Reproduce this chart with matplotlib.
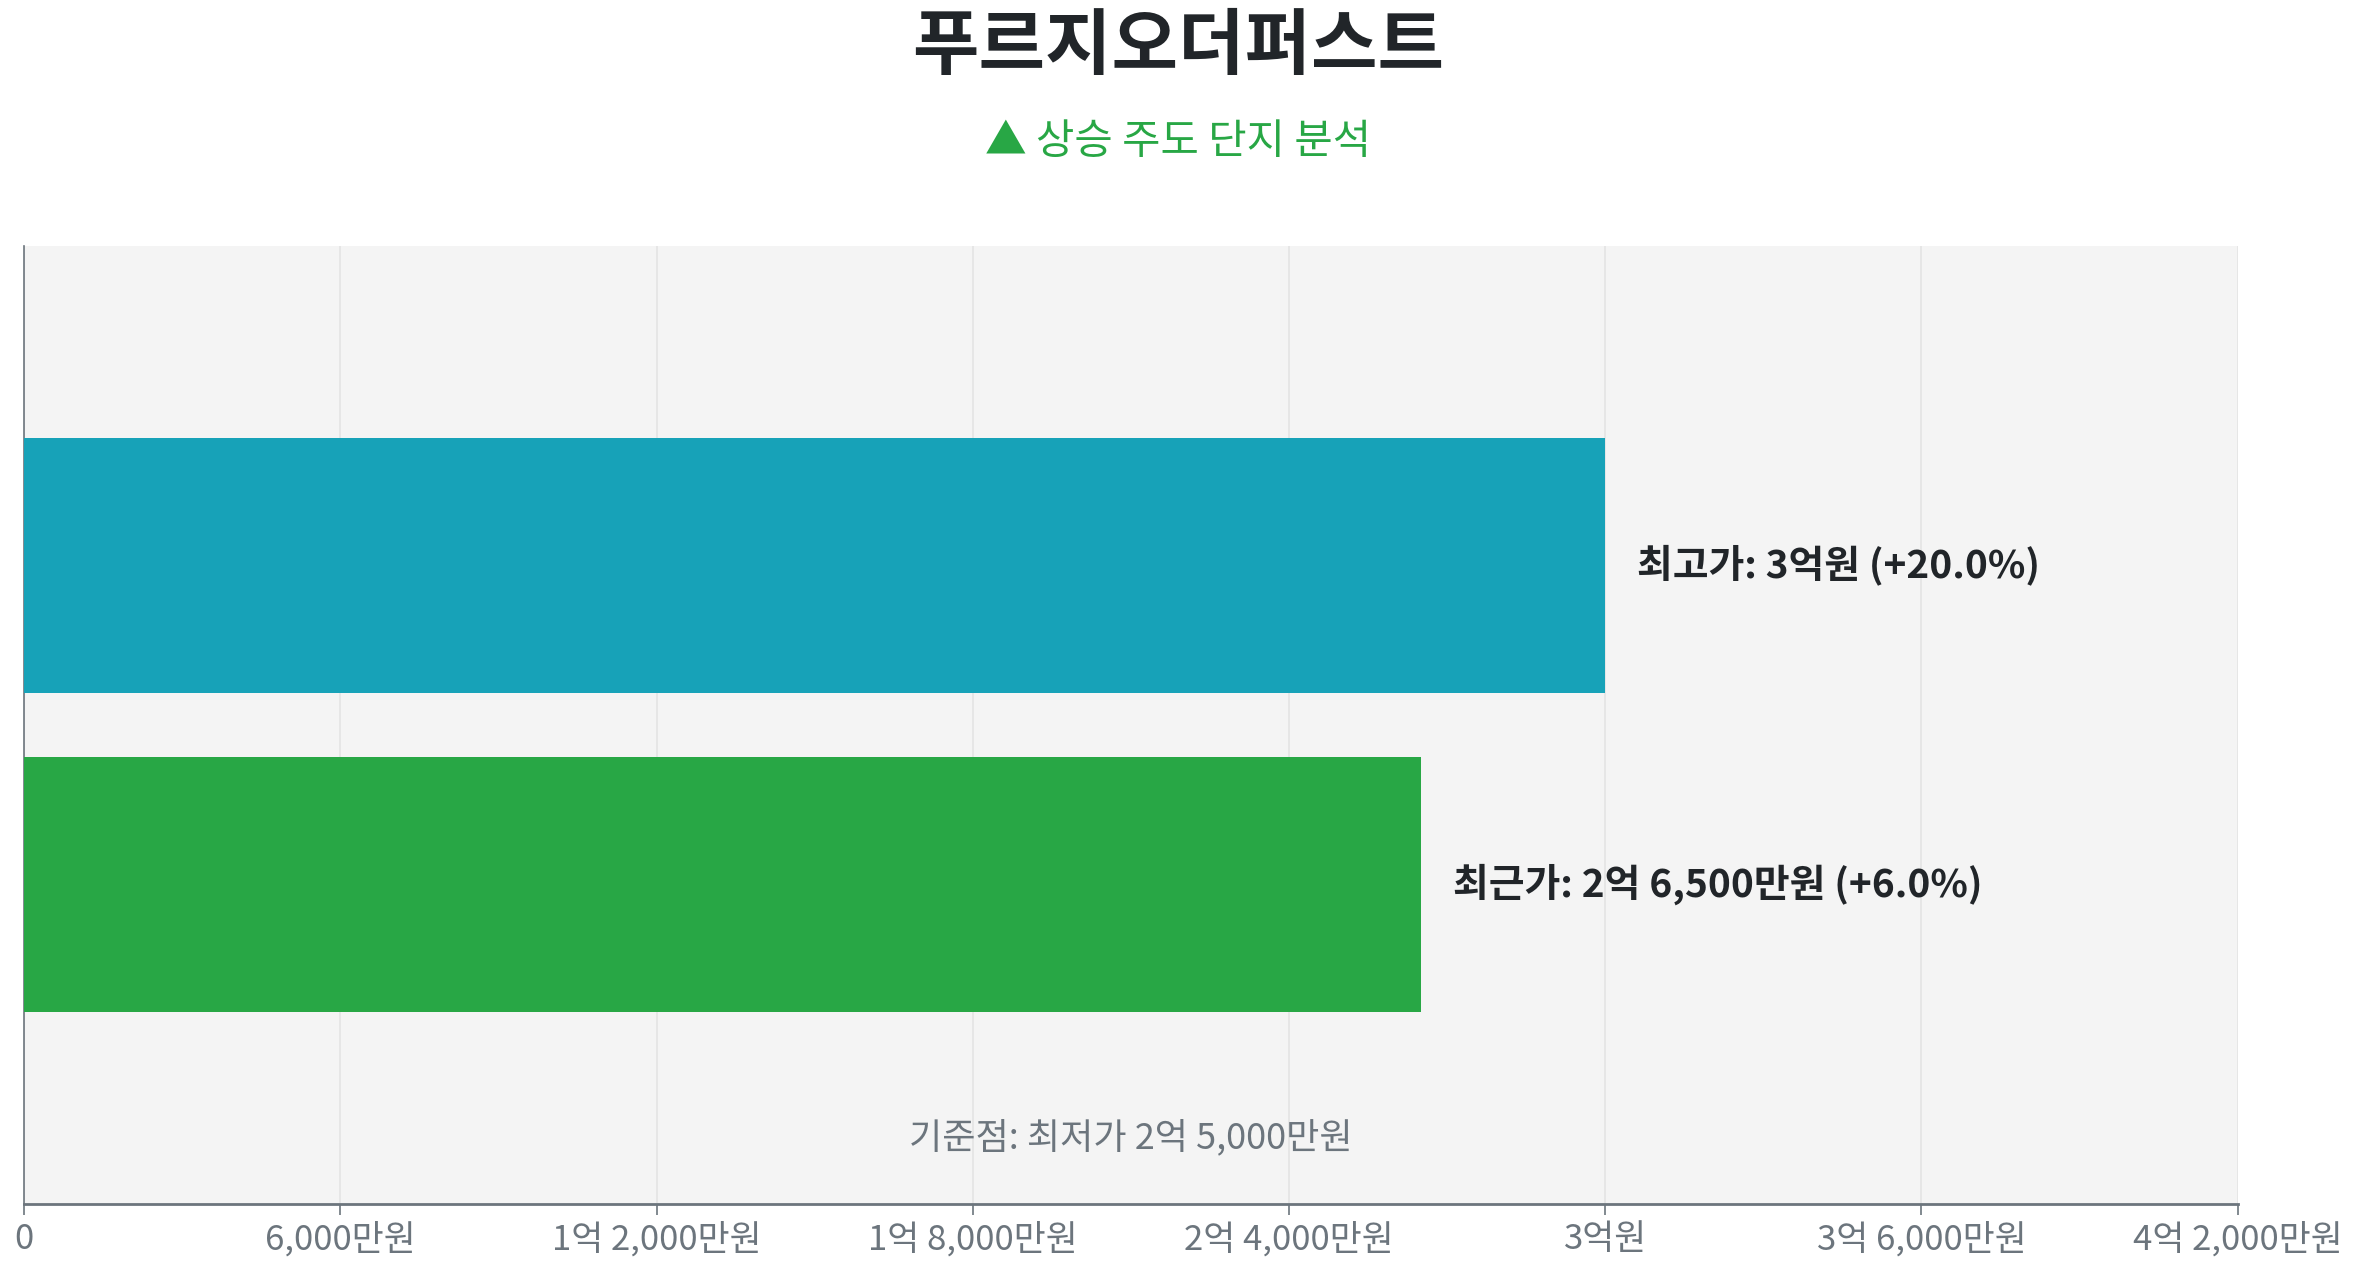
import matplotlib
matplotlib.use("Agg")
import matplotlib.pyplot as plt
from matplotlib.ticker import FixedLocator, FuncFormatter

plt.rcParams['font.family'] = ['Noto Sans CJK KR', 'DejaVu Sans']

# ---- data ----
title = "푸르지오더퍼스트"
subtitle = "▲ 상승 주도 단지 분석"
categories = ["최고가", "최근가"]
values = [300_000_000, 265_000_000]
base_label = "최저가"
base_value = 250_000_000
tick_values = [0, 60_000_000, 120_000_000, 180_000_000, 240_000_000,
               300_000_000, 360_000_000, 420_000_000]
bar_colors = ["#17a2b8", "#28a745"]


def fmt_won(v, pos=None):
    v = int(round(v))
    if v == 0:
        return "0"
    eok = v // 100_000_000
    man = (v % 100_000_000) // 10_000
    if eok and man:
        return f"{eok}억 {man:,}만원"
    if eok:
        return f"{eok}억원"
    return f"{man:,}만원"


fig = plt.figure(figsize=(23.57, 12.68), dpi=100)
fig.patch.set_facecolor("white")
ax = fig.add_axes([0.0102, 0.0505, 0.9392, 0.7555])
ax.set_facecolor("#f4f4f4")

ypos = [1, 0]
ax.barh(ypos, values, height=0.8, color=bar_colors, zorder=3)
ax.set_xlim(0, tick_values[-1])
ax.set_ylim(-1, 2)

ax.xaxis.set_major_locator(FixedLocator(tick_values))
ax.xaxis.set_major_formatter(FuncFormatter(fmt_won))
ax.grid(axis="x", color="#e4e4e4", linewidth=1.2, zorder=0)
ax.set_yticks([])
ax.tick_params(axis="x", colors="#6c757d", labelsize=25, length=8, width=1.2, pad=5)
for lab in ax.get_xticklabels():
    lab.set_color("#6c757d")

for s in ["top", "right"]:
    ax.spines[s].set_visible(False)
ax.spines["left"].set_color("#6c757d")
ax.spines["left"].set_linewidth(1.2)
ax.spines["bottom"].set_color("#6c757d")
ax.spines["bottom"].set_linewidth(2)

for cat, v, y in zip(categories, values, ypos):
    pct = (v - base_value) / base_value * 100
    ax.annotate(f"{cat}: {fmt_won(v)} (+{pct:.1f}%)", xy=(v, y), xytext=(23, 0),
                textcoords="offset points", va="center", ha="left",
                fontsize=28, fontweight="bold", color="#212529", zorder=4)

ax.text(0.5, 0.069, f"기준점: {base_label} {fmt_won(base_value)}", transform=ax.transAxes,
        ha="center", va="center", fontsize=26, color="#6c757d")

fig.text(0.5, 0.962, title, ha="center", va="center", fontsize=52,
         fontweight="bold", color="#212529")
fig.text(0.5, 0.888, subtitle, ha="center", va="center", fontsize=30, color="#28a745")

fig.savefig("out.png", dpi=100)
